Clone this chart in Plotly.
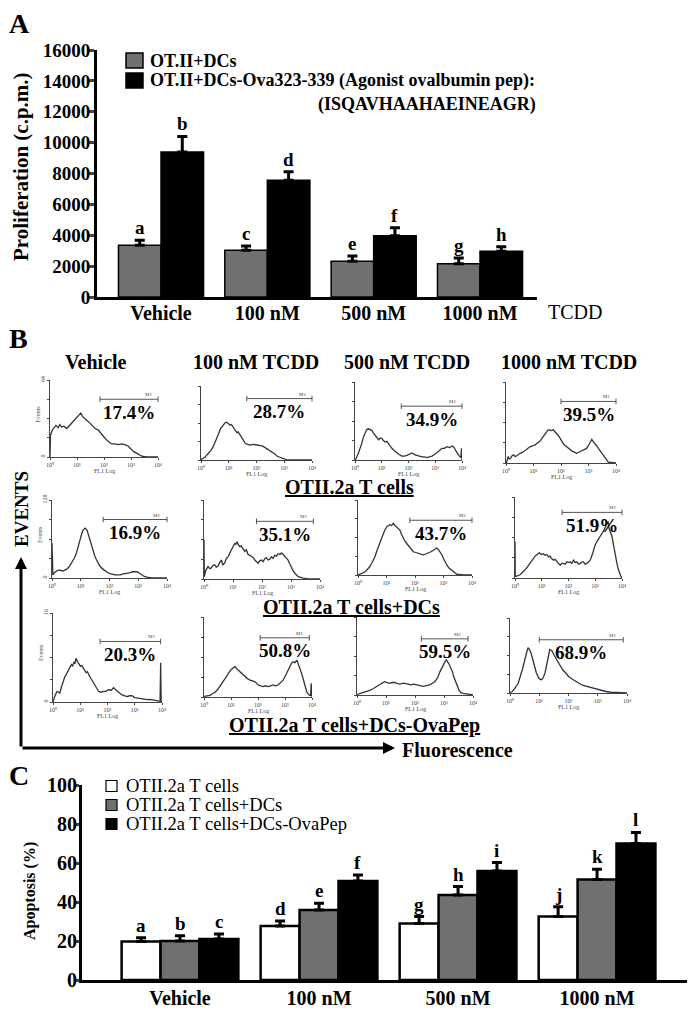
import plotly.graph_objects as go

FONT = "Liberation Serif"
GRAY = "#707070"

# ---------------- Panel A data ----------------
a_groups = ["Vehicle", "100 nM", "500 nM", "1000 nM"]
a_gray = [3350, 3030, 2310, 2160]
a_gray_err = [330, 270, 350, 370]
a_black = [9400, 7570, 3960, 2960]
a_black_err = [1000, 540, 520, 290]
a_gray_letters = ["a", "c", "e", "g"]
a_black_letters = ["b", "d", "f", "h"]
a_yticks = [0, 2000, 4000, 6000, 8000, 10000, 12000, 14000, 16000]

# ---------------- Panel C data ----------------
c_groups = ["Vehicle", "100 nM", "500 nM", "1000 nM"]
c_white = [19.7, 27.7, 29.0, 32.5]
c_white_err = [2.0, 2.6, 3.5, 5.1]
c_gray = [20.0, 35.9, 43.6, 51.6]
c_gray_err = [2.7, 3.4, 4.3, 5.2]
c_black = [21.0, 50.8, 55.9, 70.0]
c_black_err = [2.6, 3.0, 4.3, 5.7]
c_white_letters = ["a", "d", "g", "j"]
c_gray_letters = ["b", "e", "h", "k"]
c_black_letters = ["c", "f", "i", "l"]
c_yticks = [0, 20, 40, 60, 80, 100]

# ---------------- Panel B histograms (log10 FL1, fraction of axis height) ----------------
r1c1 = [(0, 0), (0.02, 0.29), (0.1, 0.36), (0.22, 0.41), (0.3, 0.38), (0.36, 0.42), (0.43, 0.39), (0.52, 0.40),
        (0.62, 0.37), (0.72, 0.41), (0.80, 0.44), (0.92, 0.48), (1.05, 0.53), (1.14, 0.57), (1.22, 0.52), (1.30, 0.50),
        (1.38, 0.47), (1.48, 0.44), (1.58, 0.40), (1.67, 0.37), (1.79, 0.35), (1.91, 0.29), (2.0, 0.26), (2.10, 0.22),
        (2.2, 0.19), (2.28, 0.17), (2.4, 0.17), (2.53, 0.16), (2.65, 0.17), (2.78, 0.16), (2.90, 0.14), (3.02, 0.09),
        (3.1, 0.07), (3.21, 0.05), (3.3, 0.03), (3.40, 0.01), (3.58, 0), (4.0, 0)]
r1c2 = [(0, 0), (0.02, 0.01), (0.15, 0.04), (0.27, 0.09), (0.36, 0.13), (0.45, 0.19), (0.55, 0.27), (0.63, 0.35),
        (0.7, 0.42), (0.78, 0.47), (0.86, 0.5), (0.93, 0.51), (1.0, 0.49), (1.05, 0.47), (1.1, 0.48), (1.17, 0.44),
        (1.23, 0.41), (1.29, 0.37), (1.34, 0.38), (1.39, 0.35), (1.47, 0.30), (1.53, 0.27), (1.59, 0.23), (1.68, 0.21),
        (1.77, 0.20), (1.9, 0.21), (2.02, 0.20), (2.1, 0.2), (2.20, 0.19), (2.3, 0.17), (2.39, 0.15), (2.48, 0.13),
        (2.57, 0.10), (2.66, 0.08), (2.75, 0.05), (2.84, 0.035), (2.93, 0.02), (3.11, 0), (4, 0)]
r1c3 = [(0, 0), (0.03, 0.01), (0.13, 0.09), (0.2, 0.15), (0.25, 0.21), (0.32, 0.3), (0.38, 0.34), (0.44, 0.39),
        (0.5, 0.40), (0.57, 0.39), (0.63, 0.38), (0.7, 0.34), (0.75, 0.32), (0.82, 0.28), (0.88, 0.26), (0.94, 0.28),
        (1.0, 0.28), (1.06, 0.25), (1.13, 0.23), (1.19, 0.24), (1.25, 0.21), (1.32, 0.18), (1.38, 0.15), (1.47, 0.12),
        (1.56, 0.09), (1.65, 0.07), (1.75, 0.05), (1.85, 0.05), (1.94, 0.06), (2.04, 0.08), (2.13, 0.09), (2.22, 0.07),
        (2.31, 0.06), (2.4, 0.05), (2.5, 0.04), (2.6, 0.04), (2.69, 0.03), (2.78, 0.04), (2.88, 0.05), (2.97, 0.07),
        (3.06, 0.09), (3.15, 0.12), (3.25, 0.15), (3.34, 0.15), (3.44, 0.17), (3.53, 0.16), (3.63, 0.18), (3.7, 0.16),
        (3.75, 0.13), (3.82, 0.09), (3.88, 0.06), (3.96, 0.03), (3.98, 0.15), (4.0, 0)]
r1c4 = [(0, 0), (0.02, 0.01), (0.08, 0.08), (0.12, 0.05), (0.17, 0.06), (0.22, 0.09), (0.27, 0.10), (0.33, 0.08),
        (0.39, 0.09), (0.45, 0.11), (0.51, 0.12), (0.6, 0.13), (0.7, 0.16), (0.78, 0.18), (0.87, 0.20), (0.96, 0.21),
        (1.05, 0.22), (1.15, 0.25), (1.24, 0.27), (1.30, 0.30), (1.36, 0.33), (1.42, 0.36), (1.48, 0.39), (1.53, 0.41),
        (1.58, 0.41), (1.65, 0.40), (1.72, 0.41), (1.78, 0.39), (1.84, 0.37), (1.9, 0.34), (1.96, 0.31), (2.02, 0.27),
        (2.08, 0.24), (2.14, 0.22), (2.21, 0.20), (2.27, 0.18), (2.33, 0.16), (2.39, 0.15), (2.45, 0.14), (2.51, 0.13),
        (2.57, 0.12), (2.63, 0.13), (2.69, 0.14), (2.75, 0.15), (2.81, 0.16), (2.87, 0.17), (2.93, 0.18), (2.99, 0.21),
        (3.05, 0.24), (3.12, 0.29), (3.18, 0.26), (3.24, 0.24), (3.3, 0.21), (3.36, 0.18), (3.42, 0.15), (3.48, 0.12),
        (3.54, 0.09), (3.6, 0.06), (3.66, 0.03), (3.72, 0.01), (4, 0)]
r2c1 = [(0, 0.45), (0.01, 0.04), (0.03, 0.04), (0.09, 0.07), (0.15, 0.09), (0.21, 0.10), (0.27, 0.10), (0.33, 0.09),
        (0.38, 0.09), (0.44, 0.10), (0.5, 0.11), (0.59, 0.14), (0.68, 0.19), (0.77, 0.25), (0.85, 0.32), (0.91, 0.39),
        (0.97, 0.47), (1.02, 0.55), (1.06, 0.60), (1.1, 0.63), (1.14, 0.64), (1.18, 0.63), (1.22, 0.61), (1.27, 0.55),
        (1.32, 0.49), (1.38, 0.41), (1.43, 0.34), (1.49, 0.28), (1.55, 0.23), (1.61, 0.19), (1.67, 0.15), (1.75, 0.12),
        (1.84, 0.09), (1.93, 0.07), (2.02, 0.055), (2.1, 0.045), (2.19, 0.04), (2.28, 0.04), (2.37, 0.04), (2.45, 0.05),
        (2.54, 0.055), (2.63, 0.06), (2.72, 0.07), (2.8, 0.08), (2.89, 0.085), (2.95, 0.08), (3.01, 0.07), (3.07, 0.055),
        (3.12, 0.04), (3.21, 0.02), (3.3, 0.01), (3.47, 0), (4, 0)]
r2c2 = [(0, 0.5), (0.01, 0.03), (0.06, 0.11), (0.1, 0.14), (0.14, 0.16), (0.2, 0.13), (0.25, 0.14), (0.31, 0.17),
        (0.37, 0.18), (0.42, 0.15), (0.48, 0.16), (0.54, 0.21), (0.6, 0.24), (0.65, 0.18), (0.71, 0.20), (0.77, 0.26),
        (0.83, 0.28), (0.89, 0.33), (0.95, 0.37), (1.0, 0.42), (1.06, 0.45), (1.1, 0.44), (1.14, 0.47), (1.19, 0.43),
        (1.24, 0.41), (1.28, 0.42), (1.33, 0.39), (1.37, 0.36), (1.41, 0.35), (1.46, 0.37), (1.52, 0.31), (1.58, 0.30),
        (1.64, 0.28), (1.7, 0.27), (1.75, 0.24), (1.81, 0.22), (1.87, 0.20), (1.92, 0.23), (1.98, 0.24), (2.04, 0.22),
        (2.1, 0.26), (2.15, 0.27), (2.21, 0.24), (2.27, 0.25), (2.33, 0.28), (2.38, 0.26), (2.44, 0.30), (2.5, 0.29),
        (2.56, 0.32), (2.62, 0.31), (2.67, 0.33), (2.73, 0.31), (2.79, 0.28), (2.85, 0.26), (2.9, 0.24), (2.96, 0.19),
        (3.02, 0.14), (3.08, 0.10), (3.14, 0.07), (3.2, 0.05), (3.25, 0.03), (3.42, 0.01), (3.6, 0), (4, 0)]
r2c3 = [(0, 0), (0.06, 0.01), (0.15, 0.02), (0.24, 0.04), (0.32, 0.07), (0.41, 0.11), (0.5, 0.17), (0.59, 0.24),
        (0.67, 0.33), (0.76, 0.42), (0.85, 0.51), (0.94, 0.60), (1.03, 0.65), (1.12, 0.67), (1.18, 0.66), (1.24, 0.69),
        (1.3, 0.66), (1.35, 0.64), (1.41, 0.63), (1.47, 0.60), (1.53, 0.54), (1.59, 0.49), (1.65, 0.45), (1.71, 0.42),
        (1.77, 0.39), (1.82, 0.36), (1.88, 0.34), (1.94, 0.31), (2.03, 0.30), (2.12, 0.29), (2.2, 0.28), (2.29, 0.27),
        (2.38, 0.28), (2.47, 0.29), (2.56, 0.31), (2.65, 0.33), (2.71, 0.35), (2.76, 0.36), (2.82, 0.34), (2.88, 0.31),
        (2.94, 0.27), (3.0, 0.22), (3.06, 0.17), (3.12, 0.13), (3.2, 0.09), (3.29, 0.06), (3.38, 0.03), (3.47, 0.01),
        (3.71, 0), (4, 0)]
r2c4 = [(0, 0.45), (0.01, 0.02), (0.04, 0.02), (0.12, 0.03), (0.19, 0.04), (0.28, 0.07), (0.38, 0.10), (0.47, 0.14),
        (0.56, 0.18), (0.66, 0.23), (0.75, 0.27), (0.83, 0.29), (0.91, 0.31), (0.98, 0.29), (1.06, 0.30), (1.12, 0.28),
        (1.19, 0.29), (1.25, 0.26), (1.31, 0.27), (1.37, 0.24), (1.44, 0.22), (1.5, 0.23), (1.56, 0.20), (1.62, 0.18),
        (1.69, 0.16), (1.75, 0.18), (1.81, 0.18), (1.88, 0.17), (1.94, 0.20), (2.0, 0.19), (2.06, 0.20), (2.12, 0.18),
        (2.19, 0.22), (2.25, 0.19), (2.31, 0.20), (2.38, 0.17), (2.44, 0.18), (2.5, 0.20), (2.56, 0.20), (2.62, 0.17),
        (2.69, 0.18), (2.75, 0.20), (2.81, 0.22), (2.88, 0.28), (2.94, 0.35), (3.0, 0.41), (3.06, 0.45), (3.12, 0.48),
        (3.19, 0.52), (3.25, 0.55), (3.31, 0.58), (3.38, 0.63), (3.43, 0.66), (3.48, 0.70), (3.51, 0.62), (3.54, 0.59),
        (3.58, 0.55), (3.63, 0.51), (3.67, 0.43), (3.71, 0.35), (3.76, 0.26), (3.81, 0.18), (3.86, 0.11), (3.91, 0.06),
        (3.96, 0.02), (4.0, 0)]
r3c1 = [(0, 0), (0.03, 0.02), (0.06, 0.06), (0.1, 0.09), (0.15, 0.12), (0.2, 0.11), (0.25, 0.10), (0.3, 0.16),
        (0.35, 0.21), (0.39, 0.25), (0.43, 0.28), (0.49, 0.31), (0.56, 0.36), (0.62, 0.39), (0.68, 0.42), (0.72, 0.40),
        (0.77, 0.45), (0.81, 0.43), (0.84, 0.49), (0.88, 0.46), (0.93, 0.44), (0.97, 0.42), (1.01, 0.40), (1.06, 0.41),
        (1.11, 0.38), (1.16, 0.36), (1.21, 0.33), (1.26, 0.34), (1.3, 0.31), (1.36, 0.28), (1.42, 0.25), (1.48, 0.22),
        (1.54, 0.18), (1.6, 0.15), (1.67, 0.12), (1.76, 0.11), (1.85, 0.12), (1.94, 0.12), (2.04, 0.14), (2.13, 0.13),
        (2.22, 0.16), (2.29, 0.14), (2.35, 0.12), (2.44, 0.10), (2.53, 0.08), (2.62, 0.07), (2.72, 0.06), (2.81, 0.07),
        (2.9, 0.07), (3.0, 0.05), (3.09, 0.045), (3.18, 0.04), (3.27, 0.034), (3.37, 0.03), (3.46, 0.026), (3.58, 0.03),
        (3.7, 0.02), (3.8, 0.02), (3.89, 0.01), (3.93, 0.01), (3.95, 0.44), (3.97, 0.01), (4.0, 0)]
r3c2 = [(0, 0), (0.04, 0.01), (0.13, 0.015), (0.22, 0.02), (0.31, 0.04), (0.41, 0.06), (0.5, 0.09), (0.59, 0.13),
        (0.68, 0.18), (0.78, 0.23), (0.87, 0.28), (0.97, 0.33), (1.06, 0.36), (1.15, 0.38), (1.22, 0.35), (1.28, 0.33),
        (1.34, 0.31), (1.4, 0.29), (1.46, 0.27), (1.52, 0.25), (1.61, 0.23), (1.71, 0.21), (1.8, 0.20), (1.89, 0.19),
        (1.95, 0.17), (2.01, 0.15), (2.1, 0.14), (2.19, 0.13), (2.28, 0.14), (2.38, 0.13), (2.47, 0.14), (2.56, 0.15),
        (2.65, 0.14), (2.74, 0.15), (2.84, 0.18), (2.93, 0.21), (2.99, 0.25), (3.05, 0.29), (3.11, 0.34), (3.17, 0.38),
        (3.24, 0.42), (3.3, 0.44), (3.37, 0.43), (3.44, 0.46), (3.49, 0.42), (3.54, 0.38), (3.58, 0.33), (3.62, 0.29),
        (3.67, 0.23), (3.71, 0.17), (3.76, 0.11), (3.81, 0.06), (3.86, 0.04), (3.91, 0.02), (3.95, 0.02), (3.97, 0.17),
        (4.0, 0)]
r3c3 = [(0, 0), (0.03, 0.01), (0.12, 0.02), (0.21, 0.03), (0.32, 0.045), (0.44, 0.06), (0.55, 0.08), (0.67, 0.11),
        (0.76, 0.13), (0.84, 0.15), (0.9, 0.16), (0.95, 0.17), (1.04, 0.16), (1.13, 0.15), (1.21, 0.16), (1.3, 0.16),
        (1.38, 0.15), (1.47, 0.14), (1.56, 0.15), (1.64, 0.15), (1.76, 0.14), (1.87, 0.13), (1.96, 0.14), (2.05, 0.13),
        (2.16, 0.12), (2.28, 0.11), (2.4, 0.12), (2.51, 0.13), (2.6, 0.15), (2.68, 0.17), (2.74, 0.20), (2.79, 0.23),
        (2.85, 0.29), (2.91, 0.34), (2.95, 0.37), (2.99, 0.40), (3.04, 0.43), (3.08, 0.45), (3.12, 0.43), (3.17, 0.40),
        (3.23, 0.35), (3.29, 0.30), (3.34, 0.23), (3.4, 0.17), (3.46, 0.11), (3.52, 0.06), (3.59, 0.03), (3.66, 0.02),
        (3.83, 0.01), (4, 0)]
r3c4 = [(0, 0), (0.02, 0.01), (0.08, 0.02), (0.13, 0.04), (0.2, 0.08), (0.28, 0.13), (0.35, 0.21), (0.42, 0.31),
        (0.48, 0.40), (0.53, 0.49), (0.58, 0.56), (0.62, 0.60), (0.67, 0.58), (0.72, 0.53), (0.77, 0.45), (0.83, 0.36),
        (0.9, 0.27), (0.98, 0.20), (1.04, 0.18), (1.09, 0.18), (1.14, 0.21), (1.2, 0.27), (1.24, 0.36), (1.28, 0.44),
        (1.32, 0.52), (1.36, 0.58), (1.4, 0.57), (1.44, 0.56), (1.5, 0.51), (1.56, 0.47), (1.62, 0.44), (1.67, 0.40),
        (1.74, 0.35), (1.8, 0.31), (1.9, 0.27), (2.0, 0.22), (2.11, 0.19), (2.22, 0.16), (2.36, 0.13), (2.5, 0.10),
        (2.64, 0.085), (2.78, 0.07), (2.94, 0.05), (3.11, 0.03), (3.28, 0.02), (3.44, 0.01), (3.6, 0.005), (3.78, 0.0),
        (4, 0)]

b_col_titles = ["Vehicle", "100 nM TCDD", "500 nM TCDD", "1000 nM TCDD"]
b_row_labels = ["OTII.2a T cells", "OTII.2a T cells+DCs", "OTII.2a T cells+DCs-OvaPep"]
b_events_max = ["64", "128", "16"]
b_pct = [["17.4%", "28.7%", "34.9%", "39.5%"],
         ["16.9%", "35.1%", "43.7%", "51.9%"],
         ["20.3%", "50.8%", "59.5%", "68.9%"]]
m1_start = [[1.85, 1.65, 1.73, 2.0], [1.78, 1.81, 1.82, 1.76], [1.73, 2.08, 2.22, 1.0]]
m1_end = [[4.0, 4.0, 4.0, 4.0], [4.0, 3.77, 4.0, 4.0], [3.95, 3.9, 3.83, 3.87]]
m1_level = [[0.75, 0.83, 0.69, 0.76], [0.75, 0.73, 0.73, 0.81], [0.68, 0.74, 0.72, 0.71]]
hists = [[r1c1, r1c2, r1c3, r1c4], [r2c1, r2c2, r2c3, r2c4], [r3c1, r3c2, r3c3, r3c4]]
fl_ticks = ["10\u2070", "10\u00b9", "10\u00b2", "10\u00b3", "10\u2074"]

# ---------------- layout geometry (reference pixels; page body adds an 8px margin) ----------------
OFF = 8
W, H = 695 - OFF, 1014 - OFF


def PX(x):
    return (x - OFF) / W


def PY(y):
    return 1 - (y - OFF) / H


# histogram boxes: (left, right, top, bottom) in px
boxes = [[(50, 158, 380, 457), (201, 312, 386, 460), (355, 462, 382, 460), (506, 616, 382, 463)],
         [(52, 167, 500, 578), (204, 320, 500, 579), (358, 472, 500, 575), (515, 622, 497, 578)],
         [(53, 162, 613, 702), (204, 312, 617, 697), (357, 473, 617, 695), (510, 627, 618, 693)]]

fig = go.Figure()
layout = dict(width=W, height=H, margin=dict(l=0, r=0, t=0, b=0),
              paper_bgcolor="white", plot_bgcolor="white", showlegend=False,
              barmode="overlay", font=dict(family=FONT, color="black"))
annotations = []
shapes = []

# ---------------- Panel A ----------------
a_pos = list(range(len(a_groups)))
BW_A = 0.4
fig.add_bar(x=a_pos, y=a_gray, width=BW_A, offset=-BW_A, xaxis="x", yaxis="y",
            marker=dict(color=GRAY, line=dict(color="black", width=1.5)),
            error_y=dict(type="data", array=a_gray_err, arrayminus=[0] * 4, symmetric=False,
                         color="black", thickness=3, width=5))
fig.add_bar(x=a_pos, y=a_black, width=BW_A, offset=0, xaxis="x", yaxis="y",
            marker=dict(color="black", line=dict(color="black", width=1.5)),
            error_y=dict(type="data", array=a_black_err, arrayminus=[0] * 4, symmetric=False,
                         color="black", thickness=3, width=5))
for i in a_pos:
    for val, err, let, off in [(a_gray[i], a_gray_err[i], a_gray_letters[i], -BW_A / 2),
                               (a_black[i], a_black_err[i], a_black_letters[i], BW_A / 2)]:
        annotations.append(dict(x=i + off, y=val + err, xref="x", yref="y", text="<b>%s</b>" % let,
                                showarrow=False, yanchor="bottom", yshift=0,
                                font=dict(size=19, family=FONT)))

layout["xaxis"] = dict(domain=[PX(97), PX(537)], range=[-0.602, 3.536], tickvals=a_pos, ticktext=a_groups,
                       showline=True, linewidth=3, linecolor="black", ticks="", showgrid=False, zeroline=False,
                       tickfont=dict(size=20, family=FONT, weight="bold"), anchor="y", automargin=False,
                       ticklabelstandoff=-4)
layout["yaxis"] = dict(domain=[PY(297), PY(50)], range=[0, 16000], tickvals=a_yticks,
                       ticktext=[str(v) for v in a_yticks],
                       showline=True, linewidth=3, linecolor="black", ticks="outside", ticklen=6, tickwidth=3,
                       showgrid=False, zeroline=False, tickfont=dict(size=19, family=FONT, weight="bold"),
                       anchor="x", automargin=False, ticklabelstandoff=-6)

annotations += [
    dict(x=PX(19), y=PY(23), text="<b>A</b>", font=dict(size=28, family=FONT)),
    dict(x=PX(21), y=PY(167), text="<b>Proliferation (c.p.m.)</b>", textangle=-90, font=dict(size=21, family=FONT)),
    dict(x=PX(148), y=PY(61), xanchor="left", text="<b>OT.II+DCs</b>", font=dict(size=18, family=FONT)),
    dict(x=PX(148), y=PY(81), xanchor="left", text="<b>OT.II+DCs-Ova323-339 (Agonist ovalbumin pep):</b>",
         font=dict(size=18, family=FONT)),
    dict(x=PX(538), y=PY(104), xanchor="right", text="<b>(ISQAVHAAHAEINEAGR)</b>", font=dict(size=18, family=FONT)),
    dict(x=PX(575), y=PY(312), text="TCDD", font=dict(size=20, family=FONT)),
]
shapes += [
    dict(type="rect", xref="paper", yref="paper", x0=PX(126), x1=PX(143), y0=PY(68), y1=PY(53),
         fillcolor=GRAY, line=dict(color="black", width=1.5)),
    dict(type="rect", xref="paper", yref="paper", x0=PX(126), x1=PX(143), y0=PY(88), y1=PY(73),
         fillcolor="black", line=dict(color="black", width=1.5)),
]

# ---------------- Panel B ----------------
n = 2
for r in range(3):
    for c in range(4):
        L, R, T, B = boxes[r][c]
        xa, ya = "x%d" % n, "y%d" % n
        pts = hists[r][c]
        fig.add_scatter(x=[p[0] for p in pts], y=[p[1] for p in pts], mode="lines", xaxis=xa, yaxis=ya,
                        line=dict(color="#333333", width=1.3), cliponaxis=False)
        fig.add_scatter(x=[m1_start[r][c], m1_end[r][c]], y=[m1_level[r][c], m1_level[r][c]],
                        mode="lines+markers", xaxis=xa, yaxis=ya, cliponaxis=False,
                        line=dict(color="#555", width=1),
                        marker=dict(symbol="line-ns-open", size=4, line=dict(color="#555", width=1)))
        layout["xaxis%d" % n] = dict(domain=[PX(L), PX(R)], range=[0, 4], anchor=ya, showline=True, linewidth=1,
                                     linecolor="#444", ticks="outside", ticklen=2, tickwidth=1, tickcolor="#444",
                                     tickvals=[0, 1, 2, 3, 4], ticktext=fl_ticks, showgrid=False, zeroline=False,
                                     tickfont=dict(size=6, color="#444"), automargin=False)
        ylab = ["0", "", "", "", b_events_max[r]] if c == 0 else [""] * 5
        layout["yaxis%d" % n] = dict(domain=[PY(B), PY(T)], range=[0, 1], anchor=xa, showline=True, linewidth=1,
                                     linecolor="#444", ticks="outside", ticklen=2, tickwidth=1, tickcolor="#444",
                                     tickvals=[0, 0.25, 0.5, 0.75, 1], ticktext=ylab, tickangle=-90,
                                     showgrid=False, zeroline=False, tickfont=dict(size=6, color="#444"),
                                     automargin=False)
        mid = (m1_start[r][c] + m1_end[r][c]) / 2
        annotations.append(dict(x=mid, y=m1_level[r][c], xref=xa, yref=ya, text="<b>%s</b>" % b_pct[r][c],
                                showarrow=False, yanchor="middle", yshift=-13, font=dict(size=19, family=FONT)))
        annotations.append(dict(x=m1_end[r][c] - 0.35, y=m1_level[r][c], xref=xa, yref=ya, text="M1",
                                showarrow=False, yanchor="bottom", yshift=0, font=dict(size=5, color="#444")))
        annotations.append(dict(x=0.5, y=0, xref=xa + " domain", yref=ya + " domain", text="FL1 Log",
                                showarrow=False, yshift=-14, font=dict(size=6, color="#444")))
        if c == 0:
            annotations.append(dict(x=0, y=0.55, xref=xa + " domain", yref=ya + " domain", text="Events",
                                    showarrow=False, xshift=-12, textangle=-90, font=dict(size=6, color="#444")))
        n += 1

col_x = [96, 256, 407, 569]
for c in range(4):
    annotations.append(dict(x=PX(col_x[c]), y=PY(362), text="<b>%s</b>" % b_col_titles[c],
                            font=dict(size=20, family=FONT)))
row_lab_pos = [(349, 487), (351, 607), (354, 725)]
for r in range(3):
    annotations.append(dict(x=PX(row_lab_pos[r][0]), y=PY(row_lab_pos[r][1]),
                            text="<u><b>%s</b></u>" % b_row_labels[r], font=dict(size=20, family=FONT)))
annotations += [
    dict(x=PX(18), y=PY(338), text="<b>B</b>", font=dict(size=28, family=FONT)),
    dict(x=PX(21), y=PY(509), text="<b>EVENTS</b>", textangle=-90, font=dict(size=19, family=FONT)),
    dict(x=PX(400), y=PY(750), xanchor="left", text="<b>Fluorescence</b>", font=dict(size=20, family=FONT)),
    dict(x=PX(21), y=PY(557), ax=0, ay=191, text="", showarrow=True, arrowhead=2, arrowwidth=3,
         arrowsize=0.8, arrowcolor="black", xref="paper", yref="paper"),
    dict(x=PX(395), y=PY(748), ax=-374, ay=0, text="", showarrow=True, arrowhead=2, arrowwidth=3,
         arrowsize=0.8, arrowcolor="black", xref="paper", yref="paper"),
]

# ---------------- Panel C ----------------
c_pos = list(range(len(c_groups)))
BW_C = 0.28
cx = "x%d" % n
cy = "y%d" % n
series_c = [(c_white, c_white_err, c_white_letters, "white", -1.5 * BW_C),
            (c_gray, c_gray_err, c_gray_letters, GRAY, -0.5 * BW_C),
            (c_black, c_black_err, c_black_letters, "black", 0.5 * BW_C)]
for vals, errs, lets, col, off in series_c:
    fig.add_bar(x=c_pos, y=vals, width=BW_C, offset=off, xaxis=cx, yaxis=cy,
                marker=dict(color=col, line=dict(color="black", width=2.5)),
                error_y=dict(type="data", array=errs, arrayminus=[0] * 4, symmetric=False,
                             color="black", thickness=3, width=5))
    for i in c_pos:
        annotations.append(dict(x=i + off + BW_C / 2, y=vals[i] + errs[i], xref=cx, yref=cy,
                                text="<b>%s</b>" % lets[i], showarrow=False, yanchor="bottom",
                                font=dict(size=19, family=FONT)))

layout["xaxis%d" % n] = dict(domain=[PX(82), PX(687)], range=[-0.705, 3.647], tickvals=c_pos, ticktext=c_groups,
                             showline=True, linewidth=3, linecolor="black", ticks="", showgrid=False,
                             zeroline=False, tickfont=dict(size=20, family=FONT, weight="bold"), anchor=cy,
                             automargin=False, ticklabelstandoff=-2)
layout["yaxis%d" % n] = dict(domain=[PY(980), PY(785)], range=[0, 100], tickvals=c_yticks,
                             ticktext=[str(v) for v in c_yticks],
                             showline=True, linewidth=3, linecolor="black", ticks="outside", ticklen=5,
                             tickwidth=3, showgrid=False, zeroline=False,
                             tickfont=dict(size=20, family=FONT, weight="bold"), anchor=cx, automargin=False,
                             ticklabelstandoff=-7)

c_legend = ["OTII.2a T cells", "OTII.2a T cells+DCs", "OTII.2a T cells+DCs-OvaPep"]
c_leg_cols = ["white", GRAY, "black"]
c_leg_y = [786, 805, 824]
for k in range(3):
    shapes.append(dict(type="rect", xref="paper", yref="paper", x0=PX(106), x1=PX(117),
                       y0=PY(c_leg_y[k] + 5.5), y1=PY(c_leg_y[k] - 5.5), fillcolor=c_leg_cols[k],
                       line=dict(color="black", width=1.2)))
    annotations.append(dict(x=PX(124), y=PY(c_leg_y[k]), xanchor="left", text=c_legend[k],
                            font=dict(size=18.5, family=FONT)))
annotations += [
    dict(x=PX(19), y=PY(775), text="<b>C</b>", font=dict(size=28, family=FONT)),
    dict(x=PX(30), y=PY(891), text="<b>Apoptosis (%)</b>", textangle=-90, font=dict(size=16, family=FONT)),
]

for a in annotations:
    a.setdefault("xref", "paper")
    a.setdefault("yref", "paper")
    a.setdefault("showarrow", False)
    a.setdefault("xanchor", "center")
    a.setdefault("yanchor", "middle")
layout["annotations"] = annotations
layout["shapes"] = shapes
fig.update_layout(**layout)
fig.write_html("out.html")
